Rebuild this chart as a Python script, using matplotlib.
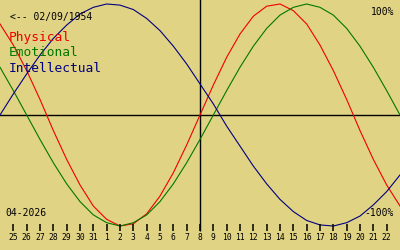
import matplotlib
matplotlib.use("Agg")
import matplotlib.pyplot as plt

# day labels, 25 March .. 22 April 2026 (today = 8 April)
day_labels = ["25", "26", "27", "28", "29", "30", "31"] + [str(i) for i in range(1, 23)]
today_idx = 14

# values in %, one per day from 24 March to 23 April
physical = [82, 63, 40, 14, -14, -40, -63, -82, -94, -100, -98, -89, -73, -52, -27,
            0, 27, 52, 73, 89, 98, 100, 94, 82, 63, 40, 14, -14, -40, -63, -82]
emotional = [43, 22, 0, -22, -43, -62, -78, -90, -97, -100, -97, -90, -78, -62, -43,
             -22, 0, 22, 43, 62, 78, 90, 97, 100, 97, 90, 78, 62, 43, 22, 0]
intellectual = [0, 19, 37, 54, 69, 81, 91, 97, 100, 99, 95, 87, 76, 62, 46,
                28, 10, -10, -28, -46, -62, -76, -87, -95, -99, -100, -97, -91, -81, -69, -54]
days = list(range(-1, len(physical) - 1))

bg = "#e1d384"
mono = "DejaVu Sans Mono"
red, green, blue = "#f00000", "#007800", "#000080"

fig = plt.figure(figsize=(4, 2.5), dpi=100, facecolor=bg)
ax = fig.add_axes([0, 0, 1, 1])
ax.set_facecolor(bg)
ax.set_xlim(-1, 29)
ax.set_ylim(-121.6, 103.6)
ax.axis("off")

# axes lines
ax.axhline(0, color="black", lw=1)
ax.vlines(today_idx, -104.5, 110, color="black", lw=1)

# curves
ax.plot(days, physical, color=red, lw=0.8)
ax.plot(days, emotional, color=green, lw=0.8)
ax.plot(days, intellectual, color=blue, lw=0.8)

# day ticks
for i, lab in enumerate(day_labels):
    ax.vlines(i, -104.5, -98.2, color="black", lw=1.1)
    ax.text(i, -112.4, lab, ha="center", va="baseline", fontsize=5.8, family=mono)

# texts
def px(x, y):
    return x / 400, 1 - y / 250

fig.text(*px(10, 17), "<-- 02/09/1954", fontsize=7, family=mono, va="center", ha="left")
fig.text(*px(9, 38), "Physical", fontsize=9.3, family=mono, va="center", color=red)
fig.text(*px(9, 53), "Emotional", fontsize=9.3, family=mono, va="center", color=green)
fig.text(*px(9, 68), "Intellectual", fontsize=9.3, family=mono, va="center", color=blue)
fig.text(*px(394, 12), "100%", fontsize=7, family=mono, va="center", ha="right")
fig.text(*px(394, 213), "-100%", fontsize=7, family=mono, va="center", ha="right")
fig.text(*px(5, 213), "04-2026", fontsize=7, family=mono, va="center", ha="left")

fig.savefig("out.png", dpi=100, facecolor=bg)
